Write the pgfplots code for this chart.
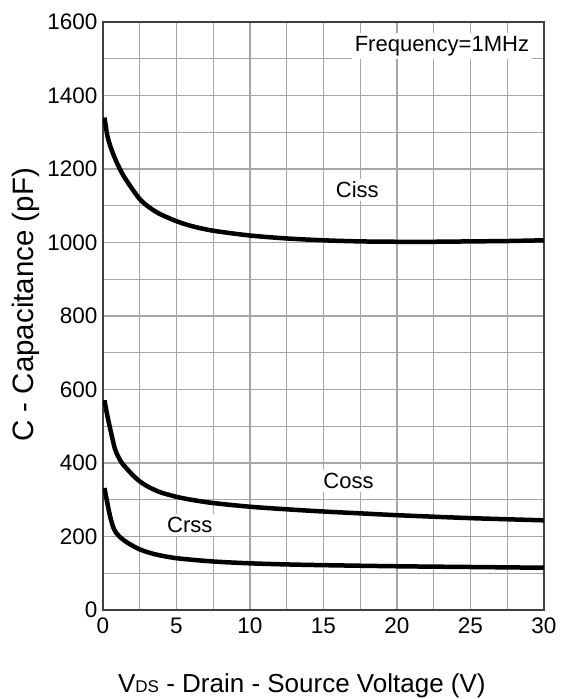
\documentclass[border=0pt]{standalone}
\usepackage{fontspec}
\setmainfont{Liberation Sans}
\usepackage{pgfplots}
\pgfplotsset{compat=1.18}
\begin{document}
\begin{tikzpicture}
\useasboundingbox (-103pt,-89pt) rectangle (457pt,610pt);
\begin{axis}[
  at={(0,0)}, anchor=south west,
  scale only axis, width=441pt, height=588pt,
  xmin=0, xmax=30, ymin=0, ymax=1600,
  xtick={0,5,...,30}, ytick={0,200,...,1600},
  minor xtick={2.5,7.5,...,27.5}, minor ytick={100,300,...,1500},
  grid=both,
  major grid style={draw=gray!70, line width=1.2pt},
  minor grid style={draw=gray!70, line width=1.2pt},
  axis line style={draw=black!75, line width=1.3pt},
  major tick length=0pt, minor tick length=0pt,
  /pgf/number format/assume math mode=true,
  /pgf/number format/1000 sep={},
  ticklabel style={font=\fontsize{22.5}{24}\selectfont},
  yticklabel style={xshift=-2pt},
  xticklabel style={yshift=-4pt},
  xlabel={V{\fontsize{17}{18}\selectfont DS} - Drain - Source Voltage (V)},
  ylabel={C - Capacitance (pF)},
  xlabel style={at={(axis description cs:0.451,-0.1395)}, anchor=base, font=\fontsize{26}{28}\selectfont},
  ylabel style={at={(axis description cs:-0.1587,0.519)}, anchor=base, rotate=0, font=\fontsize{29.5}{31}\selectfont},
]
\addplot[black, line width=4.5pt, smooth, tension=0.5, no markers] coordinates {(0.1,1340)(0.3,1290)(0.5,1262)(0.75,1235)(1,1212)(1.25,1192)(1.5,1175)(2,1145)(2.5,1118)(3,1100)(3.5,1086)(4,1075)(5,1058)(6,1045)(7.5,1032)(10,1019)(12.5,1011)(15,1006)(17.5,1003)(20,1002)(22.5,1002)(25,1003)(27.5,1004)(30,1006)};
\addplot[black, line width=4.5pt, smooth, tension=0.5, no markers] coordinates {(0.1,571)(0.25,538)(0.45,500)(0.65,465)(0.8,440)(1,420)(1.25,402)(1.5,390)(2,368)(2.5,350)(3,337)(3.5,327)(4,319)(5,308)(6,300)(7.5,291)(10,281)(12.5,274)(15,268)(17.5,263)(20,258)(25,250)(30,244)};
\addplot[black, line width=4.5pt, smooth, tension=0.5, no markers] coordinates {(0.1,332)(0.3,290)(0.5,252)(0.7,225)(0.9,210)(1.2,197)(1.7,182)(2.5,165)(3.5,152)(5,141)(7.5,132)(10,127)(12.5,124)(15,122)(20,119)(25,117)(30,115)};
\node[anchor=east, fill=white, inner sep=3pt, font=\fontsize{22}{24}\selectfont] at (axis cs:29.2,1535) {Frequency=1MHz};
\node[fill=white, inner sep=3pt, font=\fontsize{22}{24}\selectfont] at (axis cs:17.3,1143) {Ciss};
\node[fill=white, inner sep=3pt, font=\fontsize{22}{24}\selectfont] at (axis cs:16.7,351) {Coss};
\node[fill=white, inner sep=3pt, font=\fontsize{22}{24}\selectfont] at (axis cs:5.9,231) {Crss};
\end{axis}
\end{tikzpicture}
\end{document}
